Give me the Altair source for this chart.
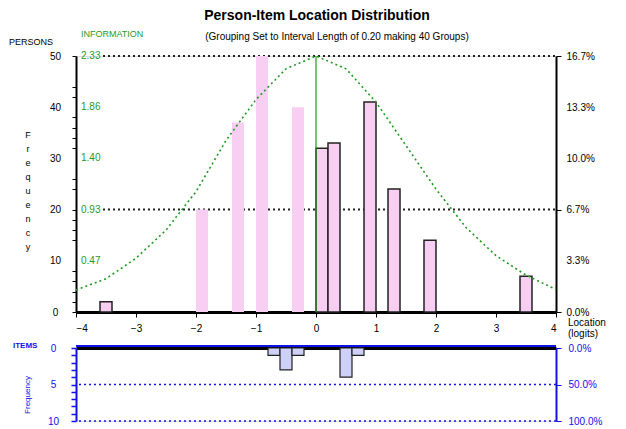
import altair as alt
import pandas as pd

# ---------------- data ----------------
person_loc = [-3.5, -1.9, -1.3, -0.9, -0.3, 0.1, 0.3, 0.9, 1.3, 1.9, 3.5]
person_freq = [2, 20, 37, 50, 40, 32, 33, 41, 24, 14, 7]

item_loc = [-0.7, -0.5, -0.3, 0.5, 0.7]
item_freq = [1, 3, 1, 4, 1]

info_x = [-4, -3.5, -3, -2.5, -2, -1.5, -1, -0.5, 0, 0.5, 1, 1.5, 2, 2.5, 3, 3.5, 4]
info_y = [4.3, 6.5, 10.5, 16.0, 23.5, 33.5, 41.5, 47.5, 50, 47.5, 41, 32.5, 24, 16.5, 11, 7.2, 4.4]
info_peak = [0.0]

x_ticks = [-4, -3, -2, -1, 0, 1, 2, 3, 4]
freq_labels = [0, 10, 20, 30, 40, 50]
freq_minor = [2, 4, 6, 8, 14, 16, 18, 24, 26, 32, 34, 36, 38, 42, 44]
info_label_pos = [50, 40, 30, 20, 10]
info_labels = ["2.33", "1.86", "1.40", "0.93", "0.47"]
pct_labels = ["0.0%", "3.3%", "6.7%", "10.0%", "13.3%", "16.7%"]
grid_levels = [20, 50]

item_ticks = [0, 1, 2, 3, 4, 5, 6, 7, 8, 9, 10]
item_labels = [0, 5, 10]
item_pct = ["0.0%", "50.0%", "100.0%"]
item_grid = [5, 10]

title_text = "Person-Item Location Distribution"
subtitle_text = "(Grouping Set to Interval Length of 0.20 making 40 Groups)"
x_title_lines = ["Location", "(logits)"]

# ---------------- styles ----------------
FONT = "Liberation Sans"
PINK = "#f8cef3"
BLUEFILL = "#cdd1f7"
GREEN = "#1f9a1f"
BLUE = "#1010e8"
W, H1, H2 = 480, 256, 73

xs = alt.Scale(domain=[-4, 4], nice=False, zero=False)
ys = alt.Scale(domain=[0, 50], nice=False)
ys2 = alt.Scale(domain=[0, 10], nice=False, reverse=True)

x_axis = alt.Axis(
    values=x_ticks, title=None, grid=False, domainColor="black", domainWidth=3,
    tickColor="black", tickSize=5, labelPadding=6, labelFontSize=10,
    labelColor="black", labelFont=FONT, format="d")

one = alt.Data(values=[{}])

def label_at(text, x, y, size=10, color="black", weight="normal", align="left",
             baseline="middle", angle=0, line_height=12):
    return alt.Chart(one).mark_text(
        text=text, fontSize=size, color=color, fontWeight=weight, align=align,
        baseline=baseline, font=FONT, angle=angle, lineHeight=line_height
    ).encode(x=alt.value(x), y=alt.value(y))

# ---------------- upper panel: persons ----------------
pdf = pd.DataFrame({"loc": person_loc, "freq": person_freq})
major_list = ",".join(str(v) for v in freq_labels)
bars = alt.Chart(pdf).transform_calculate(
    x0="datum.loc - 0.1", x1="datum.loc + 0.1"
).mark_bar(fill=PINK, stroke="#222222", strokeWidth=1.5).encode(
    x=alt.X("x0:Q", scale=xs, axis=x_axis),
    x2="x1:Q",
    y=alt.Y("freq:Q", scale=ys, axis=alt.Axis(
        values=freq_labels + freq_minor, title=None, grid=False,
        domainColor="black", domainWidth=2, tickColor="black", tickSize=4,
        tickOpacity={"condition": {"test": "datum.value == 10 || datum.value == 30 || datum.value == 40", "value": 0}, "value": 1},
        labelExpr=f"indexof([{major_list}], datum.value) >= 0 ? datum.label : ''",
        labelAlign="center", labelPadding=17, labelFontSize=10, labelColor="black", labelFont=FONT)),
    y2=alt.datum(0),
    strokeOpacity=alt.condition("datum.loc > 0 || datum.loc < -3", alt.value(1), alt.value(0)),
)

pct_expr = "[" + ",".join(f"'{p}'" for p in pct_labels) + "][datum.value / 10]"
grid = alt.Chart(pd.DataFrame({"lvl": grid_levels})).mark_rule(
    color="#222222", strokeDash=[2, 3], strokeWidth=2
).encode(
    x=alt.value(27), x2=alt.value(W),
    y=alt.Y("lvl:Q", scale=ys, axis=alt.Axis(
        orient="right", values=freq_labels, title=None, grid=False,
        domainColor="black", domainWidth=2, tickColor="black", tickSize=5,
        tickOpacity={"condition": {"test": "datum.value == 0 || datum.value == 20 || datum.value == 50", "value": 1}, "value": 0},
        labelExpr=pct_expr, labelPadding=5, labelFontSize=10, labelColor="black", labelFont=FONT))
)

curve = alt.Chart(pd.DataFrame({"x": info_x, "y": info_y})).mark_line(
    color=GREEN, strokeDash=[2, 3], strokeWidth=1.6
).encode(x=alt.X("x:Q", scale=xs, axis=x_axis), y=alt.Y("y:Q", scale=ys, axis=None))

peak = alt.Chart(pd.DataFrame({"p": info_peak, "lo": [0], "hi": [50]})).mark_rule(
    color=GREEN, strokeWidth=1.2
).encode(x=alt.X("p:Q", scale=xs, axis=x_axis), y=alt.Y("lo:Q", scale=ys, axis=None), y2="hi:Q")

info_text = alt.Chart(pd.DataFrame({"v": info_label_pos, "t": info_labels})).mark_text(
    color=GREEN, fontSize=10, align="left", baseline="middle", font=FONT
).encode(x=alt.value(5), y=alt.Y("v:Q", scale=ys, axis=None), text="t:N")

freq_letters = list("Frequency")
upper = alt.layer(
    grid, bars, curve, peak, info_text,
    label_at(title_text, 241, -40, size=14, weight="bold", align="center"),
    label_at(subtitle_text, 261, -19, size=10, align="center"),
    label_at("INFORMATION", 5, -22, size=9, color=GREEN),
    label_at("PERSONS", -67, -14, size=9),
    label_at(x_title_lines, 492, 262, size=10, baseline="top", line_height=11),
    label_at(freq_letters, -48, 75, size=9, baseline="top", align="center", line_height=14),
).resolve_axis(y="independent").properties(width=W, height=H1)

# ---------------- lower panel: items ----------------
idf = pd.DataFrame({"loc": item_loc, "freq": item_freq})
item_major = ",".join(str(v) for v in item_labels)
ibars = alt.Chart(idf).transform_calculate(
    x0="datum.loc - 0.1", x1="datum.loc + 0.1"
).mark_bar(fill=BLUEFILL, stroke="#222222", strokeWidth=1.2).encode(
    x=alt.X("x0:Q", scale=xs, axis=alt.Axis(
        orient="top", labels=False, ticks=False, title=None, grid=False,
        domainColor="black", domainWidth=3)),
    x2="x1:Q",
    y=alt.Y("freq:Q", scale=ys2, axis=alt.Axis(
        values=item_ticks, title=None, grid=False, domainColor=BLUE, domainWidth=2,
        tickColor=BLUE, tickSize=5, tickWidth=1.5,
        labelExpr=f"indexof([{item_major}], datum.value) >= 0 ? datum.label : ''",
        labelAlign="center", labelPadding=18, labelFontSize=10, labelColor=BLUE, labelFont=FONT)),
    y2=alt.datum(0),
)

ipct_expr = "[" + ",".join(f"'{p}'" for p in item_pct) + "][datum.value / 5]"
igrid = alt.Chart(pd.DataFrame({"lvl": item_grid})).mark_rule(
    color=BLUE, strokeDash=[2, 3], strokeWidth=1.5
).encode(
    y=alt.Y("lvl:Q", scale=ys2, axis=alt.Axis(
        orient="right", values=item_labels, title=None, grid=False,
        domainColor=BLUE, domainWidth=2, tickColor=BLUE, tickSize=5,
        labelExpr=ipct_expr, labelPadding=7, labelFontSize=10, labelColor=BLUE, labelFont=FONT))
)

topline = alt.Chart(pd.DataFrame({"lvl": [0]})).mark_rule(
    color=BLUE, strokeWidth=2, yOffset=-2
).encode(y=alt.Y("lvl:Q", scale=ys2, axis=None))

lower = alt.layer(
    igrid, ibars, topline,
    label_at("ITEMS", -63, -2, size=8, color=BLUE, weight="bold"),
    label_at("Frequency", -48, 47, size=8, color=BLUE, align="center", angle=270),
).resolve_axis(y="independent").properties(width=W, height=H2)

chart = alt.vconcat(upper, lower, spacing=1).configure_view(stroke=None).configure(
    font=FONT, background="white"
).properties(padding=0)

chart.save("out.html", embed_options={"renderer": "svg", "actions": False})
